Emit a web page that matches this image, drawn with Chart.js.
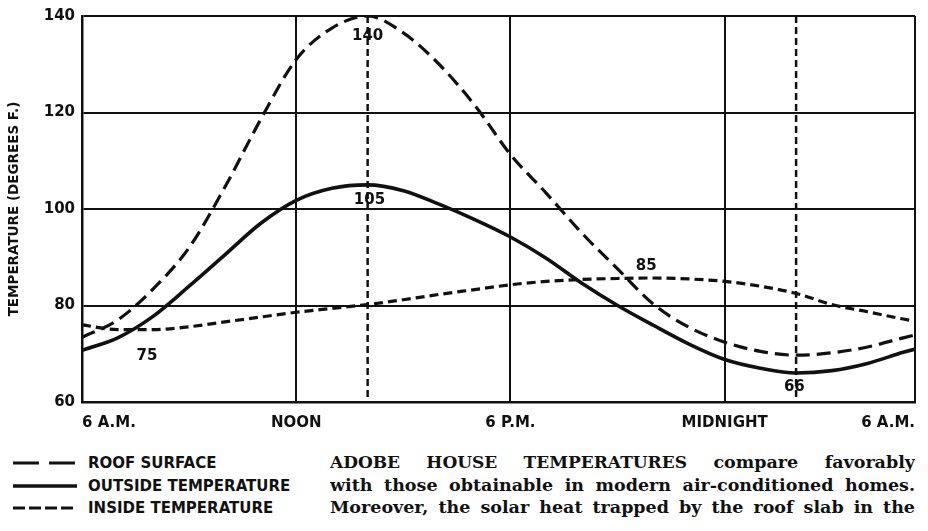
<!DOCTYPE html>
<html>
<head>
<meta charset="utf-8">
<script src="https://cdn.jsdelivr.net/npm/chart.js@4/dist/chart.umd.min.js"></script>
<style>
  html, body { margin:0; padding:0; background:#fff; width:928px; height:531px; overflow:hidden; }
  #wrap { position:relative; width:928px; height:531px; }
  #chart { position:absolute; left:0; top:0; }
  .legend { position:absolute; left:12px; top:452px; font:bold 15px "DejaVu Sans", sans-serif; color:#111; }
  .legend .row { height:22.5px; line-height:22.5px; display:flex; align-items:center; white-space:nowrap; }
  .legend svg { width:66px; height:10px; margin-right:10px; }
  .caption { position:absolute; left:330px; top:451px; width:585px; font:bold 17.5px "DejaVu Serif", serif; color:#111; }
  .caption .line { height:22.5px; line-height:22.5px; text-align:justify; text-align-last:justify; overflow:hidden; }
  .caption .lead { font-size:17px; font-weight:900; }
</style>
</head>
<body>
<div id="wrap">
  <canvas id="chart" width="928" height="440"></canvas>
  <div class="legend">
    <div class="row"><svg viewBox="0 0 66 10"><line x1="1" y1="5" x2="65" y2="5" stroke="#111" stroke-width="3" stroke-dasharray="26 10"/></svg>ROOF SURFACE</div>
    <div class="row"><svg viewBox="0 0 66 10"><line x1="1" y1="5" x2="65" y2="5" stroke="#111" stroke-width="3.5"/></svg>OUTSIDE TEMPERATURE</div>
    <div class="row"><svg viewBox="0 0 66 10"><line x1="1" y1="5" x2="65" y2="5" stroke="#111" stroke-width="3" stroke-dasharray="12 4"/></svg>INSIDE TEMPERATURE</div>
  </div>
  <div class="caption">
    <div class="line"><span class="lead">ADOBE HOUSE TEMPERATURES</span> compare favorably</div>
    <div class="line">with those obtainable in modern air-conditioned homes.</div>
    <div class="line">Moreover, the solar heat trapped by the roof slab in the</div>
  </div>
</div>
<script>
// ---- data ----
const hours        = [6, 7, 8, 9, 10, 11, 12, 13, 14, 15, 16, 17, 18, 19, 20, 21, 22, 23, 24, 25, 26, 27, 28, 29, 30];
const roofSurface  = [73.4, 77, 83.5, 92, 104.5, 118.5, 131, 137.5, 140, 136.5, 130, 121.5, 111.3, 103.3, 95, 87.6, 80.3, 75.5, 72.4, 70.5, 69.7, 70.2, 71.4, 73.3, 75];
const outsideTemp  = [70.7, 73.3, 77.8, 84, 90.5, 97, 101.8, 104.3, 105, 103.8, 101, 97.8, 94.2, 89.8, 84.6, 80, 75.9, 72, 68.8, 67, 66, 66.5, 68, 70.3, 72.3];
const insideTemp   = [76, 75, 75, 75.6, 76.6, 77.6, 78.6, 79.4, 80.2, 81.2, 82.3, 83.3, 84.3, 85, 85.4, 85.6, 85.7, 85.5, 85, 84, 82.5, 80.2, 78.7, 77.2, 76];
const seriesNames  = ['ROOF SURFACE', 'OUTSIDE TEMPERATURE', 'INSIDE TEMPERATURE'];
const tickHours    = [6, 12, 18, 24];
const axisEndHour  = 29.33;
const tickLabels   = ['6 A.M.', 'NOON', '6 P.M.', 'MIDNIGHT', '6 A.M.'];
const yMin = 60, yMax = 140, yStep = 20;
const peakHours    = [14, 26];
const valueLabels  = ['140', '105', '85', '75', '66'];
const valueLabelAt = [[14, 135.9], [14.05, 101.9], [21.8, 88.2], [7.82, 69.5], [25.95, 63.1]];

const INK = '#111';
const toPts = arr => hours.map((h, i) => ({ x: h, y: arr[i] }));

const extras = {
  id: 'extras',
  beforeDatasetsDraw(chart) {
    const { ctx, chartArea: a, scales: { x } } = chart;
    ctx.save();
    ctx.beginPath();
    ctx.rect(a.left, a.top, a.right - a.left, a.bottom - a.top);
    ctx.clip();
    ctx.strokeStyle = INK;
    ctx.lineWidth = 2.5;
    ctx.setLineDash([7, 4]);
    peakHours.forEach(h => {
      const px = x.getPixelForValue(h);
      ctx.beginPath();
      ctx.moveTo(px, a.top);
      ctx.lineTo(px, a.bottom);
      ctx.stroke();
    });
    ctx.restore();
  },
  afterDatasetsDraw(chart) {
    const { ctx, scales: { x, y } } = chart;
    ctx.save();
    ctx.fillStyle = INK;
    ctx.font = 'bold 15px "DejaVu Sans", sans-serif';
    ctx.textAlign = 'center';
    ctx.textBaseline = 'middle';
    valueLabels.forEach((t, i) => {
      const [h, v] = valueLabelAt[i];
      ctx.fillText(t, x.getPixelForValue(h), y.getPixelForValue(v));
    });
    ctx.restore();
  }
};

new Chart(document.getElementById('chart'), {
  type: 'line',
  data: {
    datasets: [
      { label: seriesNames[0], data: toPts(roofSurface), borderColor: INK, borderWidth: 3.2, borderDash: [14, 7], pointRadius: 0, cubicInterpolationMode: 'monotone', fill: false },
      { label: seriesNames[1], data: toPts(outsideTemp), borderColor: INK, borderWidth: 3.6, pointRadius: 0, cubicInterpolationMode: 'monotone', fill: false },
      { label: seriesNames[2], data: toPts(insideTemp), borderColor: INK, borderWidth: 3.2, borderDash: [9, 5], pointRadius: 0, cubicInterpolationMode: 'monotone', fill: false }
    ]
  },
  options: {
    responsive: false,
    animation: false,
    devicePixelRatio: 1,
    layout: { padding: { top: 14, right: 13, left: 0, bottom: 0 } },
    plugins: { legend: { display: false }, tooltip: { enabled: false } },
    scales: {
      x: {
        type: 'linear',
        min: 6,
        max: axisEndHour,
        afterBuildTicks: s => { s.ticks = tickHours.concat([axisEndHour]).map(v => ({ value: v })); },
        afterFit: s => { s.height = 38; },
        ticks: {
          callback: (v, i) => tickLabels[i],
          align: 'inner',
          padding: 12,
          maxRotation: 0,
          autoSkip: false,
          color: INK,
          font: { family: '"DejaVu Sans", sans-serif', weight: 'bold', size: 15 }
        },
        grid: { color: INK, lineWidth: 2, drawTicks: false },
        border: { color: INK, width: 2.5 }
      },
      y: {
        min: yMin,
        max: yMax,
        afterFit: s => { s.width = 82; },
        ticks: {
          stepSize: yStep,
          padding: 7,
          color: INK,
          font: { family: '"DejaVu Sans", sans-serif', weight: 'bold', size: 15 }
        },
        grid: { color: INK, lineWidth: 2, drawTicks: false },
        border: { color: INK, width: 2.5 },
        title: {
          display: true,
          text: 'TEMPERATURE (DEGREES F.)',
          color: INK,
          font: { family: '"DejaVu Sans", sans-serif', weight: 'bold', size: 13.5 },
          padding: { top: 6, bottom: 0 }
        }
      }
    }
  },
  plugins: [extras]
});
</script>
</body>
</html>
